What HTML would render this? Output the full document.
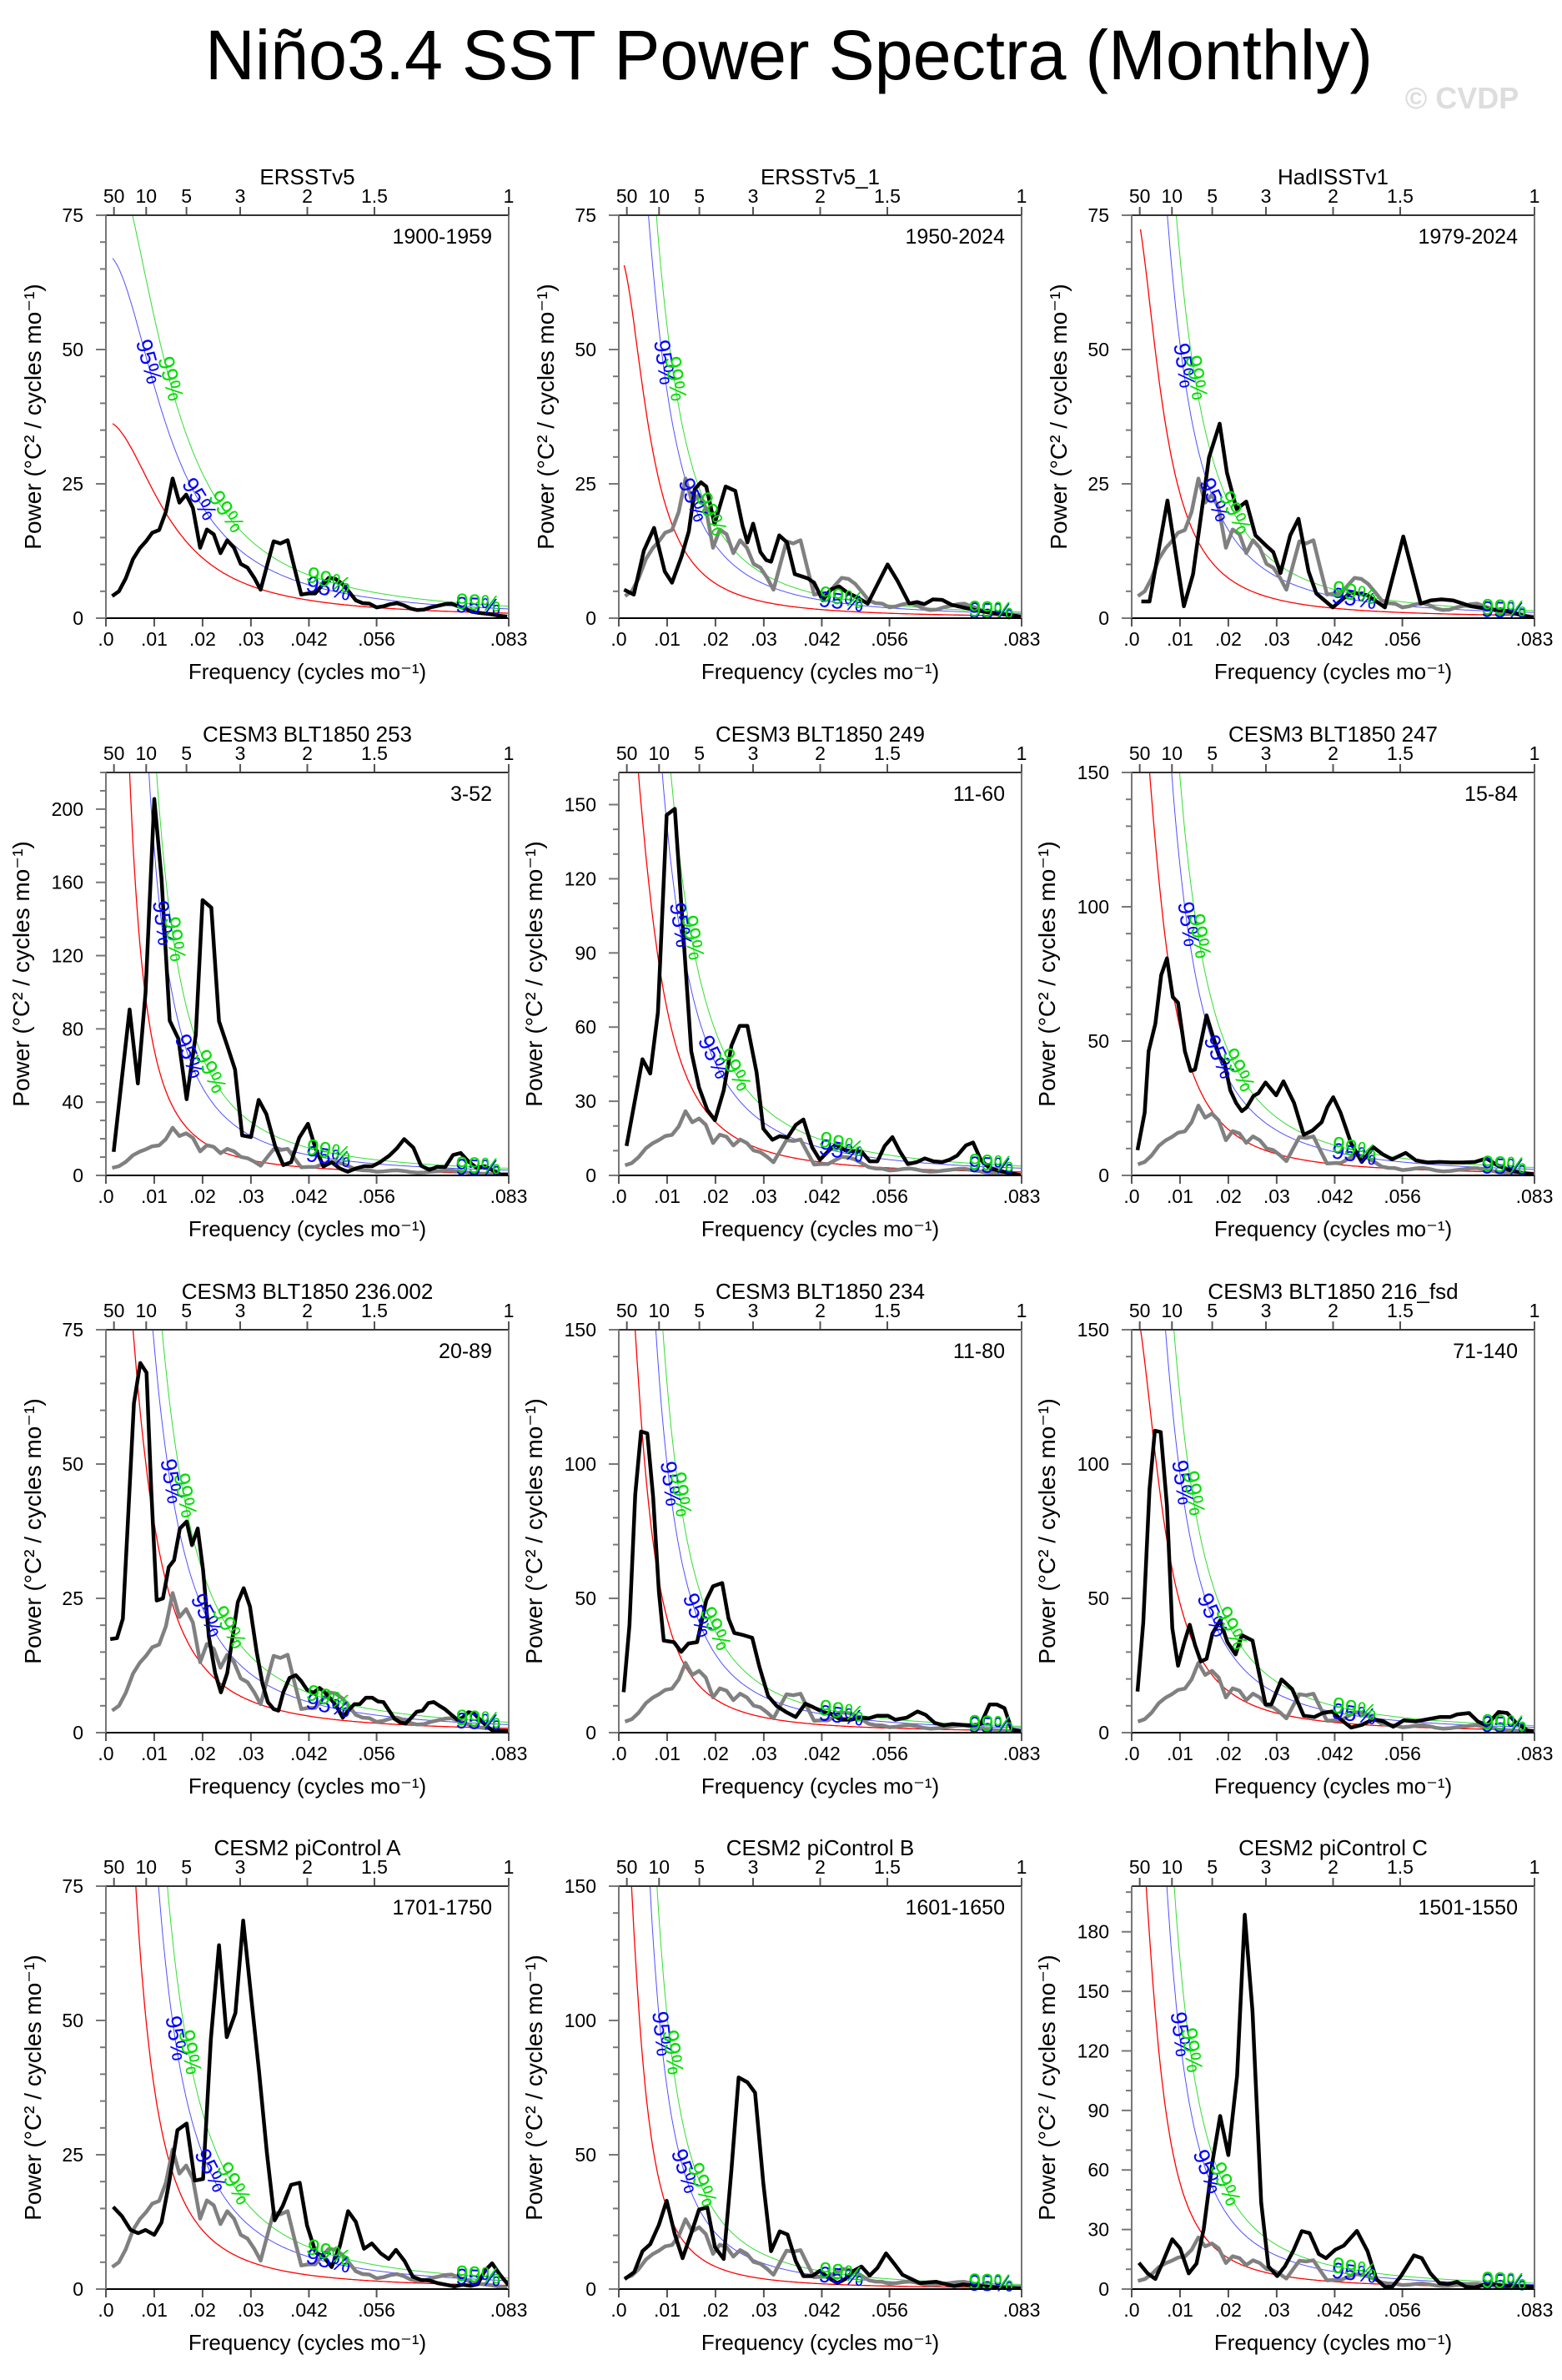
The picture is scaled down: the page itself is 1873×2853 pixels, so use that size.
<!DOCTYPE html>
<html><head><meta charset="utf-8"><title>Niño3.4 SST Power Spectra</title>
<style>
html,body{margin:0;padding:0;background:#fff;}
svg{display:block;font-family:"Liberation Sans",Arial,sans-serif;}
</style></head>
<body>
<svg id="chart" width="1873" height="2853" viewBox="0 0 1873 2853" xmlns="http://www.w3.org/2000/svg">
<rect x="0" y="0" width="1873" height="2853" fill="#fff"/>
<text x="946" y="95" font-size="84" text-anchor="middle" textLength="1400" lengthAdjust="spacingAndGlyphs">Niño3.4 SST Power Spectra (Monthly)</text>
<text x="1753" y="130" font-size="36" font-weight="bold" fill="#dddddd" text-anchor="middle">© CVDP</text>
<g id="panels"></g>
</svg>
<script>
// ---- panel metadata ----
const panelTitles = ["ERSSTv5","ERSSTv5_1","HadISSTv1","CESM3 BLT1850 253","CESM3 BLT1850 249","CESM3 BLT1850 247","CESM3 BLT1850 236.002","CESM3 BLT1850 234","CESM3 BLT1850 216_fsd","CESM2 piControl A","CESM2 piControl B","CESM2 piControl C"];
const periods = ["1900-1959","1950-2024","1979-2024","3-52","11-60","15-84","20-89","11-80","71-140","1701-1750","1601-1650","1501-1550"];
const yMax = [75,75,75,220,163,150,75,150,150,75,150,203];
const yMajor = [25,25,25,40,30,50,25,50,50,25,50,30];
const yMinor = [5,5,5,10,10,10,5,10,10,5,10,10];
const years = [60,75,46,50,50,70,70,70,70,50,50,50];
const redS0 = [36.6,67.6,78,731,226,207,131,223,162,197,214,281];
const redR = [0.92,0.96,0.96,0.98,0.96,0.963,0.96,0.97,0.96,0.97,0.975,0.97];
const blueK = [1.85,2.1,2.2,2.6,2.1,2.1,1.85,2.35,2.0,2.3,2.5,2.35];
const greenK = [2.4,2.7,2.9,3.5,2.7,2.7,2.4,3.05,2.6,3.0,3.4,3.1];
const xTicks = [0,0.01,0.02,0.03,0.042,0.056,0.083];
const xTickLabels = [".0",".01",".02",".03",".042",".056",".083"];
const periodTicks = [50,10,5,3,2,1.5,1];
const periodLabels = ["50","10","5","3","2","1.5","1"];

// ---- spectra (frequency, power) ----
const p1F = [.0013,.0027,.0041,.0056,.0070,.0083,.0096,.0110,.0124,.0138,.0152,.0166,.0180,.0195,.0209,.0223,.0237,.0251,.0265,.0279,.0293,.0307,.0320,.0334,.0347,.0361,.0376,.0390,.0404,.0419,.0433,.0447,.0461,.0475,.0489,.0503,.0517,.0531,.0545,.0560,.0574,.0588,.0602,.0616,.0630,.0644,.0658,.0672,.0687,.0701,.0715,.0729,.0743,.0757,.0771,.0785,.0799,.0813,.0830];
const p1V = [4.1,5,7.4,11,13,14.3,15.9,16.4,19.8,26,21.5,23,20.5,13.1,16.5,15.6,12.1,14.5,13.1,10.1,9.4,7.5,5.3,10,14.3,13.9,14.5,9.4,4.4,4.6,4.6,6.1,7.5,7.3,6.4,4.9,3.3,2.8,2.7,2,2.2,2.6,2.8,2.4,1.8,1.5,1.6,2,2.3,2.6,2.7,2.2,1.8,1.2,1,.85,.7,.45,.3];
const p2F = [.0011,.0031,.0052,.0073,.0095,.0110,.0130,.0145,.0157,.0170,.0181,.0198,.0221,.0241,.0256,.0266,.0278,.0293,.0305,.0315,.0332,.0348,.0364,.0391,.0404,.0422,.0438,.0456,.0472,.0490,.0515,.0533,.0556,.0577,.0601,.0617,.0632,.0650,.0669,.0688,.0712,.0737,.0762,.0799,.0833];
const p2V = [5.3,4.4,12.6,16.8,8.7,6.6,11.5,16.2,24,25.3,24.5,17.5,24.5,23.7,17.2,14.1,17.6,12.3,10.8,10.5,15.4,14.1,8.2,7.4,6.6,3.3,5.3,5.9,4.8,4,2.7,5.9,10,6.9,2.7,3,2.6,3.5,3.4,2.5,2,1.5,1.1,.7,.3];
const p3F = [.0020,.0037,.0074,.0108,.0127,.0160,.0182,.0197,.0217,.0237,.0256,.0277,.0293,.0308,.0328,.0345,.0366,.0382,.0416,.0453,.0487,.0524,.0562,.0598,.0619,.0641,.0665,.0702,.0740,.0777,.0814,.0833];
const p3V = [3.1,3.1,21.9,2.2,8.2,29.9,36.2,27.1,20.3,21.7,15.4,13.6,12.3,8.4,15.4,18.5,8.7,4.6,2,4.8,4.3,2,15.2,2.7,3.3,3.5,3.3,2.2,1.7,1.3,.4,.05];
const p4F = [.0016,.0049,.0066,.0082,.0100,.0115,.0132,.0150,.0167,.0186,.0200,.0218,.0234,.0251,.0267,.0282,.0300,.0316,.0332,.0350,.0367,.0383,.0400,.0418,.0433,.0450,.0467,.0484,.0500,.0517,.0534,.0551,.0567,.0586,.0602,.0617,.0636,.0652,.0669,.0685,.0702,.0718,.0734,.0750,.0767,.0784,.0801,.0816,.0833];
const p4V = [12.9,90.6,50.2,99.7,205.5,162,84.5,74.6,41.6,76.9,150.3,146.2,84.2,70.8,57.9,21.8,20.9,41.2,33.5,16,5.6,7.2,20.6,28.2,15.2,4.9,7.2,3.8,2,3.8,5,5,7.2,10.7,14.8,19.8,15.2,5.3,3,4.6,4.6,11.1,12.2,7.6,4.1,5,2.6,.5,.5];
const p5F = [.0016,.0049,.0065,.0081,.0099,.0116,.0132,.0150,.0166,.0183,.0199,.0217,.0233,.0250,.0266,.0285,.0299,.0318,.0333,.0349,.0366,.0382,.0400,.0416,.0434,.0449,.0468,.0486,.0502,.0519,.0535,.0550,.0566,.0581,.0598,.0617,.0633,.0651,.0669,.0684,.0700,.0718,.0733,.0749,.0767,.0785,.0804,.0833];
const p5V = [11.9,47,41.2,65.9,145.8,148.3,101.9,50.2,35.6,26.5,22.3,34.4,52.4,60.5,60.5,41.7,18.9,14.4,15.9,15.3,20.4,22.6,11.4,6.3,9.9,12.5,10.2,9.7,9.7,5.7,5.7,11.9,15.5,9.9,4.6,5.4,6.9,5.7,5.4,6.3,8,12.1,13.3,6.3,2.9,2,1.1,0];
const p6F = [.0012,.0027,.0035,.0049,.0061,.0073,.0085,.0096,.0110,.0122,.0131,.0143,.0155,.0167,.0182,.0192,.0204,.0216,.0228,.0238,.0252,.0262,.0277,.0299,.0314,.0336,.0356,.0374,.0393,.0405,.0417,.0432,.0454,.0476,.0500,.0519,.0539,.0567,.0588,.0612,.0637,.0661,.0685,.0710,.0734,.0759,.0783,.0807,.0833];
const p6V = [9.4,23.4,46.2,56.5,74.6,80.8,66.4,64.3,46.2,38.9,39.4,49.3,59.6,52.4,44.1,42,31.7,27,23.9,25.3,29.6,30.6,34.6,29.8,35,27,15.1,16.7,19.8,25.5,29.1,23.4,12,5,10.5,7.9,6,8.4,5.6,4.8,5,4.8,4.8,5,6.3,3.5,1.9,1,.4];
const p7F = [.0009,.0023,.0035,.0045,.0058,.0071,.0084,.0094,.0105,.0118,.0130,.0141,.0153,.0167,.0178,.0190,.0201,.0213,.0226,.0238,.0251,.0262,.0273,.0285,.0298,.0312,.0324,.0335,.0347,.0357,.0367,.0380,.0393,.0404,.0416,.0429,.0442,.0453,.0466,.0477,.0490,.0501,.0514,.0525,.0538,.0551,.0563,.0574,.0586,.0597,.0609,.0620,.0632,.0643,.0655,.0667,.0678,.0690,.0701,.0714,.0727,.0738,.0750,.0761,.0774,.0787,.0798,.0818,.0833];
const p7V = [17.4,17.6,21.2,38.5,61.3,68.8,67,44.7,24.6,25,30.8,32.1,38,39.3,34.9,38,30.3,17.8,11.1,7.5,11.1,17.8,24.3,26.9,23.5,15,9.1,5.7,4.4,4.1,7.5,10.2,10.7,9.6,8,7.4,8.3,7.5,6.2,4.9,2.8,4.1,5.3,5.3,6.5,6.5,5.8,5.7,4.1,2.6,1.9,1.7,2.8,3.9,4.1,5.5,5.7,5,4.4,3.4,2.4,2.8,3.8,3.6,2.4,1.3,.5,.3,.3];
const p8F = [.0010,.0022,.0034,.0046,.0059,.0071,.0083,.0093,.0114,.0129,.0144,.0162,.0181,.0195,.0214,.0227,.0239,.0258,.0276,.0291,.0309,.0327,.0346,.0366,.0386,.0403,.0422,.0440,.0459,.0480,.0498,.0517,.0535,.0557,.0572,.0596,.0618,.0635,.0653,.0672,.0690,.0712,.0730,.0749,.0767,.0782,.0798,.0813,.0833];
const p8V = [15.1,40,88.6,112.1,111.4,87.6,52.4,34.3,33.7,30.1,33.2,33.7,49.3,54.5,55.7,42.5,37.1,36.3,35.3,24.4,13.6,9.9,7.7,5.8,10.8,9.4,7.7,7,4.8,4.8,5.6,5.3,6.3,6.3,4.8,5.6,7.9,6.6,3.7,2.7,3.2,2.9,2.7,3.2,10.5,10.5,9.1,1.1,.6];
const p9F = [.0012,.0024,.0037,.0048,.0060,.0073,.0084,.0096,.0109,.0120,.0131,.0143,.0155,.0167,.0183,.0198,.0215,.0228,.0250,.0262,.0277,.0289,.0310,.0332,.0356,.0378,.0395,.0415,.0433,.0454,.0476,.0500,.0521,.0541,.0563,.0588,.0612,.0637,.0659,.0673,.0698,.0716,.0734,.0759,.0777,.0795,.0819,.0833];
const p9V = [15.3,41,90.7,112.4,111.9,84.5,38.9,24.9,33.7,40.2,32.7,26.5,27.5,36.9,41.8,33.7,29.1,36.3,34.3,23.4,10.5,10.5,19.8,16.2,6.3,5.8,7.3,7.9,4.8,1.9,2.9,5,4.2,2.2,4.6,4.2,5,5.8,5.8,6.8,7.3,4.2,2.7,7.7,7.3,3.7,.8,.6];
const p10F = [.0015,.0033,.0051,.0067,.0082,.0100,.0115,.0131,.0148,.0167,.0184,.0201,.0217,.0234,.0250,.0268,.0284,.0301,.0317,.0333,.0349,.0366,.0383,.0401,.0416,.0434,.0451,.0467,.0484,.0501,.0517,.0534,.0550,.0568,.0585,.0600,.0618,.0635,.0652,.0669,.0686,.0704,.0721,.0738,.0755,.0769,.0784,.0799,.0815,.0833];
const p10V = [15.3,13.6,11,10.4,11,10.1,12.4,19.9,29.6,30.8,20.2,20.5,46.4,64,46.9,51.4,68.6,53.9,40.4,25.4,12.8,15.5,19.4,19.8,11.9,6.8,6,4.1,8,14.5,12.5,7.5,8.5,6.7,5.6,7.3,5.2,2.3,1.7,1.6,1.1,.8,.5,.8,.6,.9,3.4,4.8,2.7,.7];
const p11F = [.0012,.0032,.0049,.0065,.0083,.0099,.0116,.0132,.0150,.0166,.0183,.0199,.0217,.0233,.0248,.0266,.0282,.0299,.0315,.0333,.0349,.0366,.0382,.0400,.0416,.0434,.0452,.0468,.0486,.0502,.0519,.0535,.0553,.0572,.0587,.0606,.0623,.0641,.0657,.0675,.0694,.0712,.0730,.0749,.0767,.0798,.0833];
const p11V = [3.7,6.3,14.1,16.7,23.9,32.9,20.3,11.5,20.8,29.6,30.4,15.6,11.2,44.1,78.8,77,73.1,39.4,14.1,21.5,20.3,10.5,4.8,4.8,6.8,4.2,2.2,3.7,6.8,8.4,5,7.9,13.3,8.9,5.3,3.7,2.2,2.5,2.7,1.9,1.1,1.7,1.4,1.1,.8,.4,.3];
const p12F = [.0015,.0033,.0049,.0063,.0084,.0100,.0118,.0134,.0149,.0167,.0183,.0200,.0218,.0234,.0250,.0268,.0283,.0301,.0317,.0334,.0352,.0368,.0387,.0402,.0421,.0439,.0466,.0488,.0506,.0524,.0539,.0557,.0584,.0600,.0618,.0637,.0655,.0673,.0692,.0710,.0728,.0747,.0771,.0795,.0833];
const p12V = [13.2,7.9,5.1,12.8,25.1,20.5,7.9,12.8,30.3,64,87.2,67.5,107.5,188.6,139.8,43.6,11.4,6.5,11.4,19.1,29.2,28.2,17.7,15.6,19.8,21.9,29.3,19.1,5.1,1.1,1.1,6.5,17,15.6,7.9,2.9,2.5,3.6,1.1,.8,2,2.5,1.5,1.5,1.1];

const blackF = [p1F,p2F,p3F,p4F,p5F,p6F,p7F,p8F,p9F,p10F,p11F,p12F];
const blackV = [p1V,p2V,p3V,p4V,p5V,p6V,p7V,p8V,p9V,p10V,p11V,p12V];
const grayF = p1F;
const grayV = p1V;

// ---- layout ----
const colLeft = [127,742,1357];
const rowTop = [258,926,1594,2261];
const PW = 483, PH = 483, FMAX = 1/12;
const NS = "http://www.w3.org/2000/svg";
const root = document.getElementById('panels');
const svgEl = document.getElementById('chart');
const defs = document.createElementNS(NS,'defs');
svgEl.insertBefore(defs, svgEl.firstChild);

function mk(tag, attrs, parent){
  const e = document.createElementNS(NS, tag);
  for (const k in attrs) e.setAttribute(k, attrs[k]);
  (parent||root).appendChild(e);
  return e;
}
function redFn(i, f){
  const r = redR[i];
  return redS0[i]*(1-r)*(1-r)/(1+r*r-2*r*Math.cos(2*Math.PI*f));
}

for (let i=0;i<12;i++){
  const L = colLeft[i%3], T = rowTop[Math.floor(i/3)], R = L+PW, B = T+PH;
  const xs = f => L + f/FMAX*PW;
  const ys = v => B - v/yMax[i]*PH;
  const g = mk('g',{});
  
  

  const cp = mk('clipPath',{id:'clip'+i}, defs);
  mk('rect',{x:L,y:T,width:PW,height:PH}, cp);

  const tt = mk('text',{x:L+PW/2,y:T-37,'font-size':26,'text-anchor':'middle'}, g);
  tt.textContent = panelTitles[i];
  
  
  const pt = mk('text',{x:R-20,y:T+34,'font-size':25,'text-anchor':'end'}, g);
  pt.textContent = periods[i];
  
  

  const yt = mk('g',{}, g);
  
  
  for (let v=0; v<=yMax[i]+1e-9; v+=yMinor[i]){
    const major = Math.abs(v/yMajor[i]-Math.round(v/yMajor[i]))<1e-6;
    mk('line',{x1:L-(major?12:7),x2:L,y1:ys(v),y2:ys(v),stroke:'#777','stroke-width':2}, yt);
    if (major){
      const lt = mk('text',{x:L-27,y:ys(v)+8,'font-size':23,'text-anchor':'end'}, yt);
      lt.textContent = String(Math.round(v));
    }
  }
  const maxChars = String(Math.floor(yMax[i]/yMajor[i])*yMajor[i]).length;
  const ytx = L-50-14*maxChars, yty = T+PH/2;
  const ytl = mk('text',{x:ytx,y:yty,'font-size':28,'text-anchor':'middle',transform:`rotate(-90 ${ytx} ${yty})`}, g);
  ytl.textContent = 'Power (°C² / cycles mo⁻¹)';
  
  

  const xt = mk('g',{}, g);
  
  
  xTicks.forEach((f,k)=>{
    const x = (k===xTicks.length-1)? R : xs(f);
    mk('line',{x1:x,x2:x,y1:B,y2:B+10,stroke:'#555','stroke-width':2}, xt);
    const lt = mk('text',{x:x,y:B+33,'font-size':23,'text-anchor':'middle'}, xt);
    lt.textContent = xTickLabels[k];
  });
  const xtl = mk('text',{x:L+PW/2,y:B+73,'font-size':26,'text-anchor':'middle'}, g);
  xtl.textContent = 'Frequency (cycles mo⁻¹)';
  
  

  const pa = mk('g',{}, g);
  
  
  periodTicks.forEach((p,k)=>{
    const x = xs(1/(12*p));
    mk('line',{x1:x,x2:x,y1:T,y2:T-10,stroke:'#555','stroke-width':2}, pa);
    const lt = mk('text',{x:x,y:T-15,'font-size':23,'text-anchor':'middle'}, pa);
    lt.textContent = periodLabels[k];
  });

  const curves = mk('g',{'clip-path':`url(#clip${i})`}, g);
  const f0 = 1/(12*years[i]);
  const specs = [[1,'#ff0000','red-noise-curve',1.3],[blueK[i],'#5050ff','confidence-95-curve',1],[greenK[i],'#33dd33','confidence-99-curve',1]];
  const samples = [];
  for (let f=f0; f<=FMAX+1e-9; f+=(FMAX-f0)/400) samples.push(f);
  specs.forEach(([k,col,name,w])=>{
    const d = samples.map((f,j)=>(j?'L':'M')+xs(f).toFixed(1)+' '+ys(k*redFn(i,f)).toFixed(1)).join(' ');
    const p = mk('path',{d:d,fill:'none',stroke:col,'stroke-width':w}, curves);
    
    
  });

  if (i>0){
    const n = Math.min(grayF.length, grayV.length);
    let d=''; for (let j=0;j<n;j++) d += (j?'L':'M')+xs(grayF[j]).toFixed(1)+' '+ys(grayV[j]).toFixed(1)+' ';
    const gp = mk('path',{d:d,fill:'none',stroke:'#808080','stroke-width':4.5,'stroke-linejoin':'round'}, curves);
    
    
  }
  {
    const F = blackF[i], V = blackV[i], n = Math.min(F.length, V.length);
    let d=''; for (let j=0;j<n;j++) d += (j?'L':'M')+xs(F[j]).toFixed(1)+' '+ys(V[j]).toFixed(1)+' ';
    const bp = mk('path',{d:d,fill:'none',stroke:'#000','stroke-width':4.5,'stroke-linejoin':'round'}, curves);
    
    
  }

  [[blueK[i],'#0000ff','95%',-8],[greenK[i],'#00dd00','99%',10]].forEach(([k,col,txt,off])=>{
    const spots = [];
    [0.62,0.28].forEach(frac=>{
      const target = frac*yMax[i];
      for (let j=1;j<samples.length;j++){ if (k*redFn(i,samples[j])<target){ spots.push(samples[j]); break; } }
    });
    spots.push(0.046, 0.077);
    spots.forEach(f=>{
      const x1=xs(f), y1=ys(k*redFn(i,f)), x2=xs(f+0.0005), y2=ys(k*redFn(i,f+0.0005));
      const ang = Math.atan2(y2-y1, x2-x1)*180/Math.PI;
      const lbl = mk('text',{x:x1+(Math.abs(ang)>45?off:0),y:y1,'font-size':27,fill:col,'text-anchor':'middle','dominant-baseline':'middle',transform:`rotate(${ang.toFixed(1)} ${x1} ${y1})`}, g);
      lbl.textContent = txt;
      
      
    });
  });

  mk('line',{x1:L,x2:R,y1:T,y2:T,stroke:'#333','stroke-width':2}, g);
  mk('line',{x1:L,x2:R,y1:B,y2:B,stroke:'#000','stroke-width':2}, g);
  mk('line',{x1:L,x2:L,y1:T,y2:B,stroke:'#777','stroke-width':2}, g);
  mk('line',{x1:R,x2:R,y1:T,y2:B,stroke:'#777','stroke-width':2}, g);
}
</script>
</body></html>
